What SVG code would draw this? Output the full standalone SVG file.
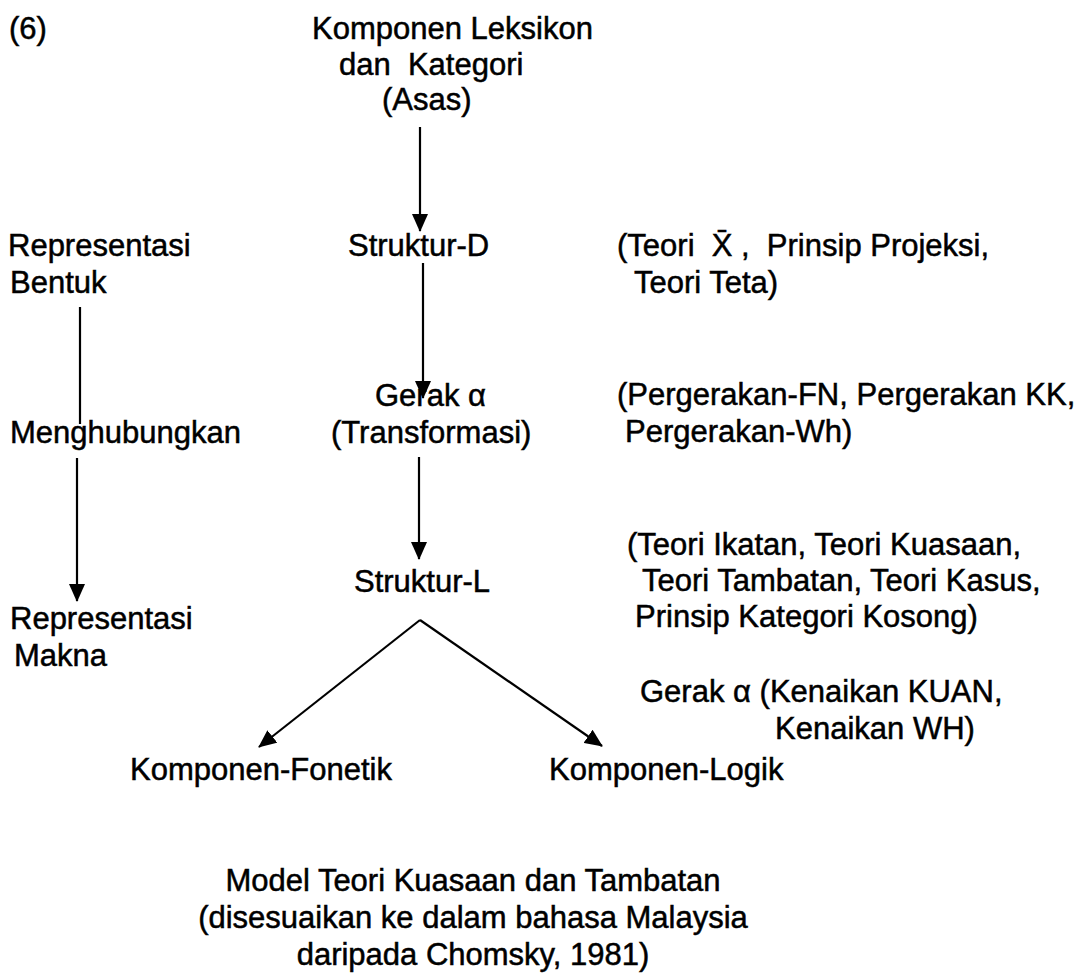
<svg xmlns="http://www.w3.org/2000/svg" width="1091" height="973" viewBox="0 0 1091 973">
<style>
text{font-family:"Liberation Sans",Arial,sans-serif;font-size:31px;fill:#000;stroke:#000;stroke-width:0.5;white-space:pre}
.c{text-anchor:middle}
.ln{stroke:#000;stroke-width:2.2;fill:none}
</style>
<defs>
<marker id="ah" markerUnits="userSpaceOnUse" markerWidth="18" markerHeight="16" refX="17" refY="8" orient="auto">
<path d="M0,0 L18,8 L0,16 z" fill="#000"/>
</marker>
</defs>
<rect width="1091" height="973" fill="#fff"/>
<g id="label6"><text x="9" y="39">(6)</text></g>
<g id="komponen-leksikon"><text x="312" y="39">Komponen Leksikon</text><text x="339" y="75">dan  Kategori</text><text x="382" y="110">(Asas)</text></g>
<g id="rep-bentuk"><text x="8" y="256">Representasi</text><text x="10" y="293">Bentuk</text></g>
<g id="struktur-d"><text x="348" y="256">Struktur-D</text></g>
<g id="note-d"><text x="617" y="256">(Teori  X̄ ,  Prinsip Projeksi,</text><text x="634" y="293">Teori Teta)</text></g>
<g id="menghubungkan"><text x="10" y="443">Menghubungkan</text></g>
<g id="gerak"><text x="375" y="406">Gerak α</text><text x="331" y="443">(Transformasi)</text></g>
<g id="note-gerak"><text x="617" y="405">(Pergerakan-FN, Pergerakan KK,</text><text x="625" y="442">Pergerakan-Wh)</text></g>
<g id="note-l"><text x="627" y="555">(Teori Ikatan, Teori Kuasaan,</text><text x="642" y="591">Teori Tambatan, Teori Kasus,</text><text x="635" y="627">Prinsip Kategori Kosong)</text></g>
<g id="struktur-l"><text x="354" y="592">Struktur-L</text></g>
<g id="rep-makna"><text x="10" y="629">Representasi</text><text x="14" y="666">Makna</text></g>
<g id="note-kenaikan"><text x="640" y="702">Gerak α (Kenaikan KUAN,</text><text x="775" y="739">Kenaikan WH)</text></g>
<g id="fonetik"><text x="130" y="780">Komponen-Fonetik</text></g>
<g id="logik"><text x="549" y="780">Komponen-Logik</text></g>
<g id="caption"><text class="c" x="473" y="891">Model Teori Kuasaan dan Tambatan</text><text class="c" x="473" y="928">(disesuaikan ke dalam bahasa Malaysia</text><text class="c" x="473" y="965">daripada Chomsky, 1981)</text></g>
<g id="connectors">
<line class="ln" x1="420" y1="127" x2="420" y2="231" marker-end="url(#ah)"/>
<line class="ln" x1="423" y1="263" x2="423" y2="398" marker-end="url(#ah)"/>
<line class="ln" x1="419" y1="457" x2="419" y2="559" marker-end="url(#ah)"/>
<line class="ln" x1="80" y1="307" x2="80" y2="424"/>
<line class="ln" x1="77" y1="458" x2="77" y2="601" marker-end="url(#ah)"/>
<line class="ln" x1="420" y1="620" x2="259" y2="747" marker-end="url(#ah)"/>
<line class="ln" x1="420" y1="620" x2="602" y2="746" marker-end="url(#ah)"/>
</g>
</svg>
